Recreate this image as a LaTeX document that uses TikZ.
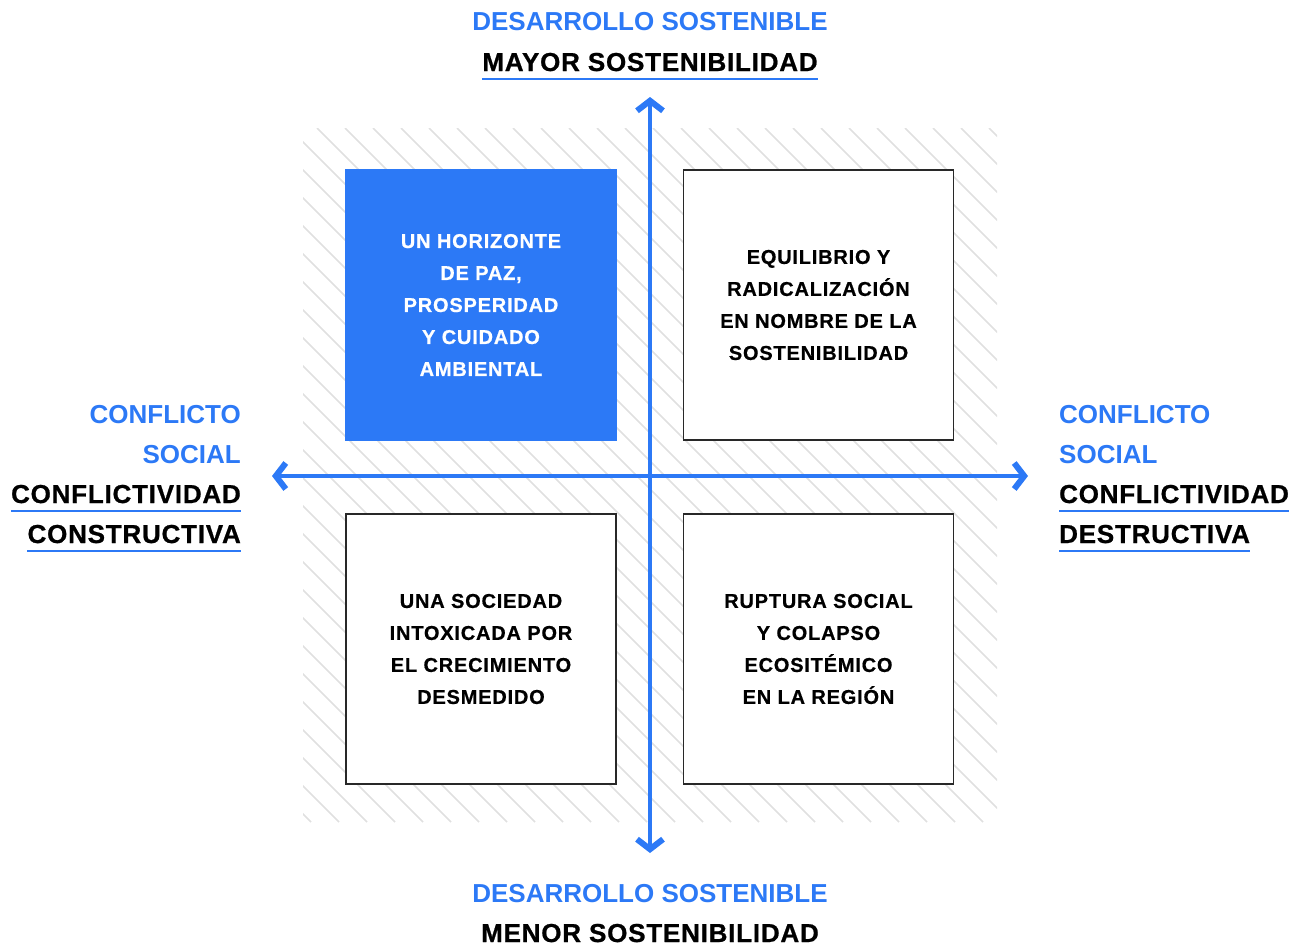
\documentclass[tikz,border=0pt]{standalone}
\usepackage{fontspec}
\setmainfont{Liberation Sans}
\newfontfamily\quadfont[LetterSpace=4,FakeBold=0.6]{Liberation Sans}
\newfontfamily\darkfont[LetterSpace=3,FakeBold=0.8]{Liberation Sans}
\definecolor{axisblue}{RGB}{44,121,246}
\definecolor{hatchgray}{RGB}{224,224,224}
\definecolor{boxgray}{RGB}{40,40,40}
\usetikzlibrary{arrows.meta}
\usetikzlibrary{positioning}
\tikzset{every picture/.style={/utils/exec={\bfseries}}}
\tikzset{
  quad/.style={draw=boxgray, line width=1.5pt, fill=white, minimum size=270pt, inner sep=0pt,
    align=center, font=\fontsize{20}{32}\selectfont\quadfont\bfseries},
  axis/.style={axisblue, line width=4pt},
  tip/.style={arrows={Straight Barb[length=10pt,width=26pt,line width=6pt 0,line cap=butt]-Straight Barb[length=10pt,width=26pt,line width=6pt 0,line cap=butt]}},
  hatch/.style={hatchgray, line width=1.5pt},
  head/.style={inner sep=0pt, font=\fontsize{26}{30}\selectfont},
  darkhead/.style={inner sep=0pt, font=\fontsize{26}{30}\selectfont\darkfont\bfseries},
  uline/.style={axisblue, line width=1.5pt}
}

\begin{document}
\begin{tikzpicture}[x=1pt, y=-1pt]
  \useasboundingbox (0,0) rectangle (1301,950);

  % hatched background
  \begin{scope}
    \clip (303,128) rectangle (997,822);
    \foreach \i in {-25,...,25} {
      \draw [hatch] (317+28*\i,128) -- ++(694,694);
    }
  \end{scope}

  % the four scenarios
  \node [quad, fill=axisblue, draw=axisblue, text=white] (paz) at (481,305)
    {UN HORIZONTE\\DE PAZ,\\PROSPERIDAD\\Y CUIDADO\\AMBIENTAL};
  \node [quad] (equilibrio) at (818.5,305)
    {EQUILIBRIO Y\\RADICALIZACIÓN\\EN NOMBRE DE LA\\SOSTENIBILIDAD};
  \node [quad] (sociedad) at (481,649)
    {UNA SOCIEDAD\\INTOXICADA POR\\EL CRECIMIENTO\\DESMEDIDO};
  \node [quad] (ruptura) at (818.5,649)
    {RUPTURA SOCIAL\\Y COLAPSO\\ECOSITÉMICO\\EN LA REGIÓN};

  % axes
  \coordinate (top) at (650,97);
  \coordinate (bottom) at (650,853);
  \coordinate (left) at (272,476);
  \coordinate (right) at (1028,476);
  \draw [axis, tip] (bottom) -- (top);
  \draw [axis, tip] (left) -- (right);

  % top and bottom labels
  \node [head, text=axisblue, anchor=base] (dsup) at (650,31) {DESARROLLO SOSTENIBLE};
  \node [darkhead, anchor=base] (mayor) at (650,71) {MAYOR SOSTENIBILIDAD};
  \draw [uline] ([yshift=-8pt]mayor.base west) -- ([yshift=-8pt]mayor.base east);
  \node [head, text=axisblue, anchor=base] (dsdown) at (650,902) {DESARROLLO SOSTENIBLE};
  \node [darkhead, anchor=base] (menor) at (650,942) {MENOR SOSTENIBILIDAD};

  % left labels
  \node [head, text=axisblue, anchor=base east] (cleft) at (241,423) {CONFLICTO};
  \node [head, text=axisblue, anchor=base east] (sleft) at (241,463) {SOCIAL};
  \node [darkhead, anchor=base east] (conflictivaleft) at (241,503) {CONFLICTIVIDAD};
  \node [darkhead, anchor=base east] (constructiva) at (241,543) {CONSTRUCTIVA};
  \draw [uline] ([yshift=-8pt]conflictivaleft.base west) -- ([yshift=-8pt]conflictivaleft.base east);
  \draw [uline] ([yshift=-8pt]constructiva.base west) -- ([yshift=-8pt]constructiva.base east);

  % right labels
  \node [head, text=axisblue, anchor=base west] (cright) at (1059,423) {CONFLICTO};
  \node [head, text=axisblue, anchor=base west] (sright) at (1059,463) {SOCIAL};
  \node [darkhead, anchor=base west] (conflictivaright) at (1059,503) {CONFLICTIVIDAD};
  \node [darkhead, anchor=base west] (destructiva) at (1059,543) {DESTRUCTIVA};
  \draw [uline] ([yshift=-8pt]conflictivaright.base west) -- ([yshift=-8pt]conflictivaright.base east);
  \draw [uline] ([yshift=-8pt]destructiva.base west) -- ([yshift=-8pt]destructiva.base east);

\end{tikzpicture}
\end{document}
